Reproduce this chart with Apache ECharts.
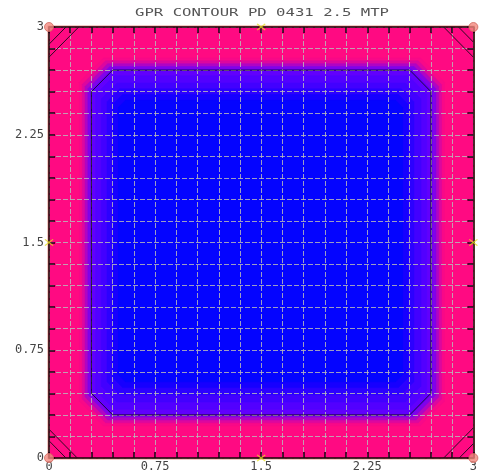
<!DOCTYPE html>
<html>
<head>
<meta charset="utf-8">
<script src="https://cdn.jsdelivr.net/npm/echarts@6/dist/echarts.min.js"></script>
<style>
html,body{margin:0;padding:0;background:#fff;}
#chart{width:480px;height:474px;}
</style>
</head>
<body>
<div id="chart"></div>
<script>
// ---- data ----
const titleText = 'GPR CONTOUR PD 0431 2.5 MTP';
const xTickLabels = ['0', '0.75', '1.5', '2.25', '3'];
const yTickLabels = ['0', '0.75', '1.5', '2.25', '3'];

// filled contour levels (nested chamfered boxes), value 0 = magenta edge, 1 = blue core
const levelValue = [0, 0.15, 0.25, 0.35, 0.45, 0.55, 0.62, 0.70, 0.80, 0.90, 1.0];
const levelX0 = [0, 0.215, 0.235, 0.255, 0.275, 0.295, 0.33, 0.37, 0.41, 0.45, 0.49];
const levelX1 = [3, 2.795, 2.775, 2.755, 2.735, 2.71, 2.67, 2.63, 2.58, 2.54, 2.50];
const levelY0 = [0, 0.225, 0.245, 0.265, 0.285, 0.30, 0.34, 0.39, 0.44, 0.49, 0.53];
const levelY1 = [3, 2.785, 2.765, 2.745, 2.725, 2.705, 2.66, 2.61, 2.57, 2.53, 2.49];
const levelCut = [0, 0.17, 0.165, 0.16, 0.155, 0.15, 0.13, 0.11, 0.09, 0.07, 0.05];

// main contour line (chamfered square)
const contourBox = [0.30, 2.70, 0.30, 2.70];
const contourCut = 0.15;

// corner contour lines (distance from the corner along each edge)
const cornerTL = [0.12, 0.21];
const cornerTR = [0.105, 0.21];
const cornerBL = [0.12, 0.20];
const cornerBR = [0.10, 0.21];

// edge markers
const cornerX = [0, 0, 3, 3];
const cornerY = [0, 3, 3, 0];
const midX = [1.5, 0, 3, 1.5];
const midY = [3, 1.5, 1.5, 0];

// ---- build chart ----
const chart = echarts.init(document.getElementById('chart'), null, {renderer: 'canvas'});

const fieldData = levelValue.map((v, i) => [levelX0[i], levelX1[i], levelY0[i], levelY1[i], levelCut[i], v]);

function octagon(api, x0, x1, y0, y1, c) {
  return [[x0 + c, y0], [x1 - c, y0], [x1, y0 + c], [x1, y1 - c], [x1 - c, y1], [x0 + c, y1], [x0, y1 - c], [x0, y0 + c]]
    .map(p => api.coord(p));
}

const cornerSegs = [];
cornerTL.forEach(d => cornerSegs.push([0, 3 - d, d, 3]));
cornerTR.forEach(d => cornerSegs.push([3 - d, 3, 3, 3 - d]));
cornerBL.forEach(d => cornerSegs.push([0, d, d, 0]));
cornerBR.forEach(d => cornerSegs.push([3 - d, 0, 3, d]));

function fmt(labels) {
  return function (val) {
    const k = Math.round(val / 0.15);
    return k % 5 === 0 ? labels[k / 5] : '';
  };
}
function tickStyle() { return {show: true, inside: true, length: 6, lineStyle: {color: '#1a0010', width: 1.5}}; }
function lineStyle() { return {show: true, onZero: false, lineStyle: {color: '#1a0505', width: 1.5}}; }
function splitStyle() { return {show: true, lineStyle: {color: 'rgba(185,185,185,0.85)', type: [5, 2], width: 1}}; }
function labelStyle(labels, margin) {
  return {formatter: fmt(labels), margin: margin, showMinLabel: true, showMaxLabel: true,
    fontFamily: 'DejaVu Sans Mono', fontSize: 12, color: '#444'};
}

const xMarkPath = 'path://M0,1L1,0L5,4L9,0L10,1L6,5L10,9L9,10L5,6L1,10L0,9L4,5Z';

chart.setOption({
  animation: false,
  backgroundColor: '#fff',
  grid: {left: 49, right: 4, top: 27, bottom: 16, show: true, borderColor: '#e8958c', borderWidth: 3, backgroundColor: 'transparent'},
  graphic: [{
    type: 'text', x: 262, y: 13, scaleX: 1.42, scaleY: 1,
    style: {text: titleText, font: "11px 'DejaVu Sans Mono'", fill: '#555', textAlign: 'center', textVerticalAlign: 'middle'}
  }],
  visualMap: {
    type: 'continuous', show: false, min: 0, max: 1, seriesIndex: 0, dimension: 5,
    inRange: {color: ['#ff0a82', '#ff0a82', '#f0088e', '#c806b0', '#9604d8', '#6c00fa', '#5600ff', '#4200ff', '#2c00ff', '#1600ff', '#0404ff']}
  },
  xAxis: [
    {type: 'value', position: 'bottom', min: 0, max: 3, interval: 0.15, z: 5,
      axisLine: lineStyle(), axisTick: tickStyle(), splitLine: splitStyle(), axisLabel: labelStyle(xTickLabels, 3)},
    {type: 'value', position: 'top', min: 0, max: 3, interval: 0.15, z: 5,
      axisLine: lineStyle(), axisTick: tickStyle(), splitLine: {show: false}, axisLabel: {show: false}}
  ],
  yAxis: [
    {type: 'value', position: 'left', min: 0, max: 3, interval: 0.15, z: 5,
      axisLine: lineStyle(), axisTick: tickStyle(), splitLine: splitStyle(), axisLabel: labelStyle(yTickLabels, 5)},
    {type: 'value', position: 'right', min: 0, max: 3, interval: 0.15, z: 5,
      axisLine: lineStyle(), axisTick: tickStyle(), splitLine: {show: false}, axisLabel: {show: false}}
  ],
  series: [
    {
      type: 'custom', z: 1, silent: true,
      encode: {x: [0, 1], y: [2, 3]},
      data: fieldData,
      renderItem: function (params, api) {
        const pts = octagon(api, api.value(0), api.value(1), api.value(2), api.value(3), api.value(4));
        return {type: 'polygon', shape: {points: pts}, style: {fill: api.visual('color'), stroke: api.visual('color'), lineWidth: 0.5}};
      }
    },
    {
      type: 'custom', z: 8, silent: true,
      encode: {x: [0, 1], y: [2, 3]},
      data: [[contourBox[0], contourBox[1], contourBox[2], contourBox[3], contourCut]],
      renderItem: function (params, api) {
        const pts = octagon(api, api.value(0), api.value(1), api.value(2), api.value(3), api.value(4));
        pts.push(pts[0]);
        return {type: 'polyline', shape: {points: pts}, style: {fill: null, stroke: '#1a0a28', lineWidth: 1, opacity: 0.9}};
      }
    },
    {
      type: 'custom', z: 8, silent: true,
      encode: {x: [0, 2], y: [1, 3]},
      data: cornerSegs,
      renderItem: function (params, api) {
        const a = api.coord([api.value(0), api.value(1)]);
        const b = api.coord([api.value(2), api.value(3)]);
        return {type: 'line', shape: {x1: a[0], y1: a[1], x2: b[0], y2: b[1]}, style: {stroke: '#2a0a20', lineWidth: 1}};
      }
    },
    {
      type: 'scatter', z: 20, silent: true,
      symbol: 'circle', symbolSize: 9,
      itemStyle: {color: '#f28a80', borderColor: '#d0665c', borderWidth: 1},
      data: cornerX.map((x, i) => [x, cornerY[i]])
    },
    {
      type: 'scatter', z: 20, silent: true,
      symbol: xMarkPath, symbolSize: [9, 7],
      itemStyle: {color: '#e6e01e'},
      data: midX.map((x, i) => [x, midY[i]])
    }
  ]
});
</script>
</body>
</html>
